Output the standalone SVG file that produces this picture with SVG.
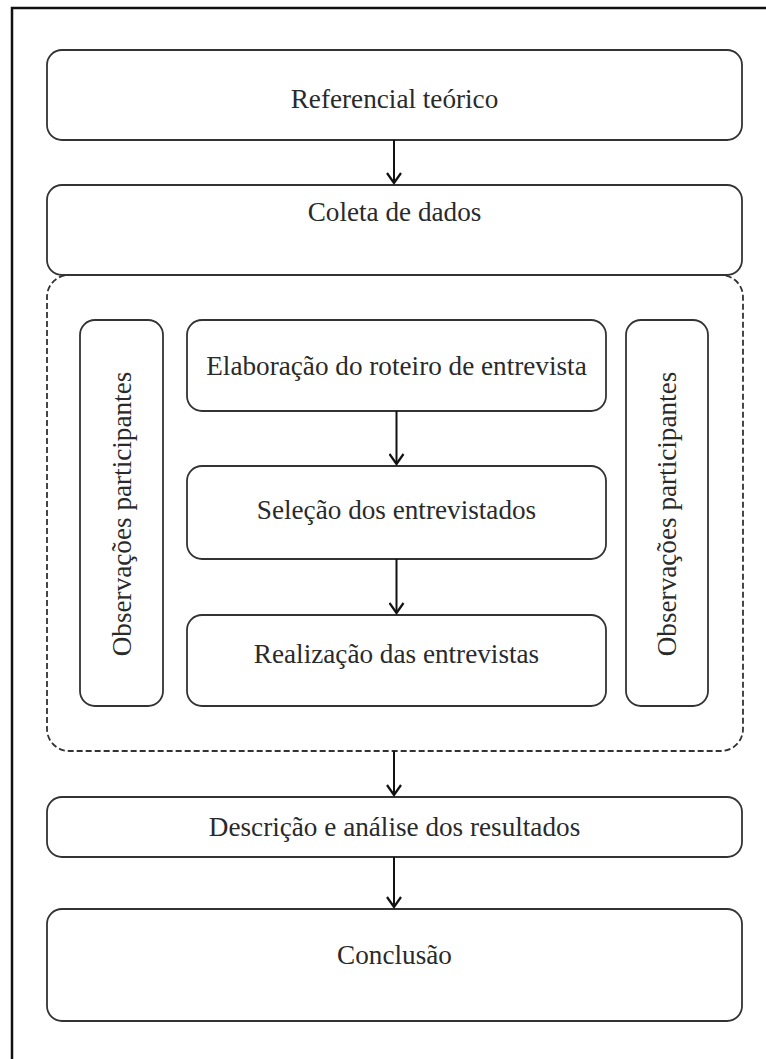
<svg xmlns="http://www.w3.org/2000/svg" width="766" height="1059" viewBox="0 0 766 1059">
<defs>
<marker id="arr" markerWidth="16" markerHeight="16" viewBox="0 0 16 16" refX="13" refY="8" orient="auto" markerUnits="userSpaceOnUse">
<path d="M3,1 L13,8 L3,15" fill="none" stroke="#111" stroke-width="2.2"/>
</marker>
<style>
.box{fill:#fff;stroke:#333;stroke-width:1.8}
.dash{fill:none;stroke:#333;stroke-width:1.8;stroke-dasharray:6 3}
.t{font-family:"Liberation Serif","Times New Roman",serif;font-size:27.2px;fill:#2a2a2a;text-anchor:middle}
.c{fill:none;stroke:#111;stroke-width:2}
.frame{fill:none;stroke:#111;stroke-width:2.5}
</style>
</defs>
<rect width="766" height="1059" fill="#fff"/>
<path class="frame" d="M12,1059 L12,8 L766,8"/>
<g id="grupo-coleta">
<rect class="dash" x="47" y="275" width="696" height="476" rx="22"/>
</g>
<g id="n-referencial">
<rect class="box" x="47" y="50" width="695" height="90" rx="15"/>
<text class="t" x="394.5" y="108">Referencial teórico</text>
</g>
<g id="n-coleta">
<rect class="box" x="47" y="185" width="695" height="90" rx="15"/>
<text class="t" x="394.5" y="221">Coleta de dados</text>
</g>
<g id="n-obs-esq">
<rect class="box" x="80" y="320" width="83" height="386" rx="15"/>
<text class="t" transform="translate(121.5,514) rotate(-90)" x="0" y="9">Observações participantes</text>
</g>
<g id="n-obs-dir">
<rect class="box" x="626" y="320" width="82" height="386" rx="15"/>
<text class="t" transform="translate(667,514) rotate(-90)" x="0" y="9">Observações participantes</text>
</g>
<g id="n-elaboracao">
<rect class="box" x="187" y="320" width="419" height="91" rx="15"/>
<text class="t" x="396.5" y="375">Elaboração do roteiro de entrevista</text>
</g>
<g id="n-selecao">
<rect class="box" x="187" y="466" width="419" height="93" rx="15"/>
<text class="t" x="396.5" y="519">Seleção dos entrevistados</text>
</g>
<g id="n-realizacao">
<rect class="box" x="187" y="615" width="419" height="91" rx="15"/>
<text class="t" x="396.5" y="663">Realização das entrevistas</text>
</g>
<g id="n-descricao">
<rect class="box" x="47" y="797" width="695" height="60" rx="15"/>
<text class="t" x="394.5" y="836">Descrição e análise dos resultados</text>
</g>
<g id="n-conclusao">
<rect class="box" x="47" y="909" width="695" height="112" rx="15"/>
<text class="t" x="394.5" y="964">Conclusão</text>
</g>
<g id="connectors">
<line class="c" x1="394" y1="140" x2="394" y2="183" marker-end="url(#arr)"/>
<line class="c" x1="396.5" y1="411" x2="396.5" y2="464" marker-end="url(#arr)"/>
<line class="c" x1="396.5" y1="559" x2="396.5" y2="613" marker-end="url(#arr)"/>
<line class="c" x1="394" y1="751" x2="394" y2="795" marker-end="url(#arr)"/>
<line class="c" x1="394" y1="857" x2="394" y2="907" marker-end="url(#arr)"/>
</g>
</svg>
